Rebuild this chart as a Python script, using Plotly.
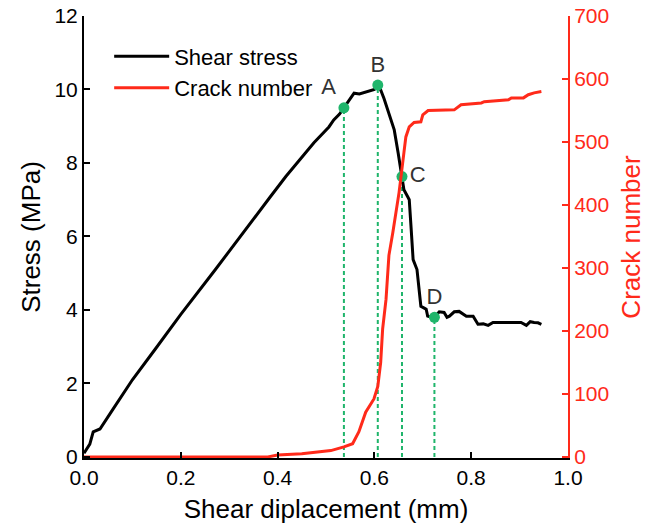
import plotly.graph_objects as go

# Shear stress curve (MPa) vs shear displacement (mm)
stress_x = [0.0, 0.005, 0.012, 0.019, 0.026, 0.033, 0.06, 0.1, 0.147, 0.2, 0.2715, 0.344, 0.385, 0.417,
            0.45, 0.475, 0.506, 0.516, 0.528, 0.537, 0.548, 0.558, 0.569, 0.579, 0.593, 0.600, 0.607,
            0.613, 0.620, 0.630, 0.641, 0.649, 0.657, 0.661, 0.668, 0.672, 0.676, 0.680, 0.688,
            0.696, 0.703, 0.707, 0.710, 0.717, 0.724, 0.734, 0.744, 0.750, 0.755, 0.765, 0.775,
            0.783, 0.790, 0.804, 0.814, 0.825, 0.835, 0.845, 0.852, 0.870, 0.890, 0.903, 0.914,
            0.922, 0.930, 0.938, 0.945]
stress_y = [0.1, 0.2, 0.35, 0.68, 0.72, 0.76, 1.3, 2.1, 2.93, 3.88, 5.10, 6.38, 7.08, 7.63,
            8.15, 8.55, 8.98, 9.17, 9.33, 9.50, 9.72, 9.90, 9.88, 9.92, 9.99, 10.0, 10.12,
            9.99, 9.75, 9.36, 8.9, 8.28, 7.63, 7.27, 7.1, 7.0, 6.2, 5.37, 5.10,
            4.10, 4.05, 4.02, 3.83, 3.80, 3.80, 3.95, 3.93, 3.80, 3.83, 3.95, 3.96,
            3.88, 3.83, 3.83, 3.61, 3.62, 3.58, 3.66, 3.66, 3.65, 3.66, 3.66, 3.58,
            3.68, 3.66, 3.65, 3.61]

# Crack number vs shear displacement
crack_x = [0.0, 0.38, 0.40, 0.45, 0.487, 0.51, 0.537, 0.555, 0.568, 0.582, 0.599, 0.607, 0.613,
           0.617, 0.624, 0.630, 0.638, 0.651, 0.661, 0.665, 0.672, 0.682, 0.696, 0.700, 0.711,
           0.765, 0.779, 0.821, 0.827, 0.877, 0.883, 0.908, 0.918, 0.930, 0.945]
crack_y = [0, 0, 3, 5, 8, 10, 16, 21, 40, 71, 92, 112, 150,
           203, 250, 320, 356, 420, 483, 508, 524, 531, 532, 543, 550,
           551, 559, 562, 564, 567, 570, 570, 575, 578, 580]

# Key points
pt_labels = ["A", "B", "C", "D"]
pt_x = [0.537, 0.607, 0.657, 0.724]
pt_y = [9.50, 10.12, 7.63, 3.80]
pt_textpos = ["top left", "top center", "middle right", "top center"]

x_ticks = [0.0, 0.2, 0.4, 0.6, 0.8, 1.0]
x_ticklabels = ["0.0", "0.2", "0.4", "0.6", "0.8", "1.0"]
y_ticks = [0, 2, 4, 6, 8, 10, 12]
y2_ticks = [0, 100, 200, 300, 400, 500, 600, 700]

FONT = "Liberation Sans, Arial, sans-serif"
GREEN = "#1fb56b"
RED = "#ff2a1a"
FS = 22
TFS = 21

fig = go.Figure()

# dashed drop lines
for xv, yv in zip(pt_x, pt_y):
    fig.add_trace(go.Scatter(x=[xv, xv], y=[0, yv], mode="lines",
                             line=dict(color=GREEN, width=2, dash="4px,3px"),
                             showlegend=False, hoverinfo="skip"))

fig.add_trace(go.Scatter(x=stress_x, y=stress_y, mode="lines", name="Shear stress",
                         line=dict(color="black", width=3)))
fig.add_trace(go.Scatter(x=crack_x, y=crack_y, mode="lines", name="Crack number",
                         line=dict(color=RED, width=3), yaxis="y2"))

fig.add_trace(go.Scatter(x=pt_x, y=pt_y, mode="markers+text", text=pt_labels,
                         textposition=pt_textpos,
                         textfont=dict(family=FONT, size=22, color="#333333"),
                         marker=dict(color=GREEN, size=11),
                         showlegend=False, cliponaxis=False))

fig.update_layout(
    width=659, height=526,
    margin=dict(l=84, r=91, t=16, b=68),
    paper_bgcolor="white", plot_bgcolor="white",
    font=dict(family=FONT, size=FS, color="black"),
    showlegend=True,
    legend=dict(x=0.052, y=0.956, xanchor="left", yanchor="top", itemwidth=55,
                bgcolor="rgba(0,0,0,0)", font=dict(size=FS), tracegroupgap=0),
    xaxis=dict(range=[0, 1.0], tickvals=x_ticks, ticktext=x_ticklabels, automargin=False,
               showgrid=False, zeroline=False, showline=True, linecolor="black", linewidth=2,
               ticks="inside", ticklen=6, tickwidth=2, tickcolor="black",
               ticklabeloverflow="allow",
               title=dict(text="Shear diplacement (mm)", standoff=12),
               tickfont=dict(size=TFS)),
    yaxis=dict(range=[-0.03, 12], tickvals=y_ticks, automargin=False,
               showgrid=False, zeroline=False, showline=True, linecolor="black", linewidth=2,
               ticks="inside", ticklen=6, tickwidth=2, tickcolor="black",
               ticklabeloverflow="allow",
               title=dict(text="Stress (MPa)", standoff=6),
               tickfont=dict(size=TFS)),
    yaxis2=dict(range=[-1.75, 700], tickvals=y2_ticks, overlaying="y", side="right",
                automargin=False,
                showgrid=False, zeroline=False, showline=True, linecolor=RED, linewidth=2,
                ticks="inside", ticklen=6, tickwidth=2, tickcolor=RED,
                ticklabeloverflow="allow",
                title=dict(text="Crack number", font=dict(color=RED), standoff=14),
                tickfont=dict(size=TFS, color=RED)),
)

fig.write_html("out.html", config={"displayModeBar": False},
               post_script="document.body.style.margin='0px';")
